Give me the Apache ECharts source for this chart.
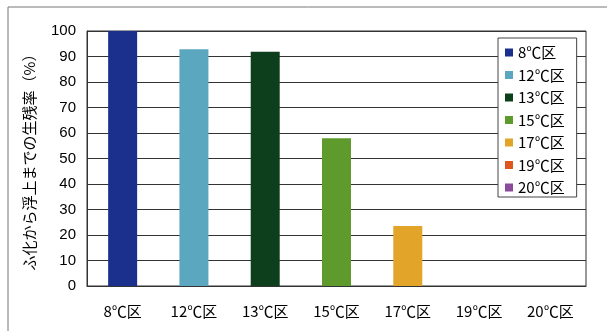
<!DOCTYPE html>
<html>
<head>
<meta charset="utf-8">
<script src="https://cdn.jsdelivr.net/npm/echarts@6/dist/echarts.min.js"></script>
<style>
  html, body { margin: 0; padding: 0; background: #fff; }
  #chart { width: 607px; height: 331px; }
</style>
</head>
<body>
<div id="chart"></div>
<script>
// 区ごとのデータ
const categories = ['8℃区', '12℃区', '13℃区', '15℃区', '17℃区', '19℃区', '20℃区'];
const survivalRate = [100, 92.8, 91.9, 57.9, 23.5, 0, 0];
const barColors = ['#1b2f8c', '#5ba7bf', '#0e3f1d', '#5e9b2c', '#e2a52a', '#e0561f', '#8b4a9c'];
const yTicks = [0, 10, 20, 30, 40, 50, 60, 70, 80, 90, 100];

const FONT = '"Noto Sans CJK JP", "Liberation Sans", sans-serif';
const NUM_FONT = '"Liberation Sans", sans-serif';

const myChart = echarts.init(document.getElementById('chart'));

// 各区を別シリーズにして凡例を出す（stackで中央に寄せる）
const series = categories.map((name, i) => ({
  name: name,
  type: 'bar',
  stack: 'all',
  barWidth: 29,
  itemStyle: { color: barColors[i] },
  data: categories.map((_, j) => (j === i && survivalRate[i] > 0 ? survivalRate[i] : '-'))
}));

const option = {
  backgroundColor: '#fff',
  animation: false,
  textStyle: { fontFamily: FONT },
  grid: { show: true, left: 87, right: 21, top: 31, bottom: 45, borderColor: '#333', borderWidth: 1 },
  graphic: [
    { type: 'line', shape: { x1: 8, y1: 7, x2: 607, y2: 7 }, style: { stroke: '#777', lineWidth: 1 } },
    { type: 'line', shape: { x1: 8, y1: 7, x2: 8, y2: 331 }, style: { stroke: '#777', lineWidth: 1 } }
  ],
  legend: {
    orient: 'vertical',
    left: 498,
    top: 38,
    padding: [7, 12, 2, 7],
    itemWidth: 8,
    itemHeight: 8,
    itemGap: 7.5,
    icon: 'rect',
    backgroundColor: '#fff',
    borderColor: '#444',
    borderWidth: 1,
    data: categories,
    textStyle: { fontFamily: FONT, fontSize: 15, color: '#000', lineHeight: 15, padding: [0, 0, 0, 0] }
  },
  xAxis: {
    type: 'category',
    data: categories,
    axisLine: { lineStyle: { color: '#333', width: 1 } },
    axisTick: { inside: true, length: 4, lineStyle: { color: '#333' } },
    axisLabel: { color: '#000', fontSize: 15, margin: 18, fontFamily: FONT },
    splitLine: { show: false }
  },
  yAxis: {
    type: 'value',
    min: 0,
    max: 100,
    interval: 10,
    name: 'ふ化から浮上までの生残率（%）',
    nameLocation: 'middle',
    nameGap: 50,
    nameTextStyle: { color: '#000', fontSize: 15, fontFamily: FONT },
    axisLine: { show: true, lineStyle: { color: '#333' } },
    axisTick: { show: false },
    axisLabel: {
      color: '#000',
      fontSize: 15,
      margin: 11,
      fontFamily: NUM_FONT,
      formatter: v => (yTicks.includes(v) ? String(v) : '')
    },
    splitLine: { show: true, lineStyle: { color: '#333', width: 1 } }
  },
  series: series
};

option && myChart.setOption(option);
</script>
</body>
</html>
